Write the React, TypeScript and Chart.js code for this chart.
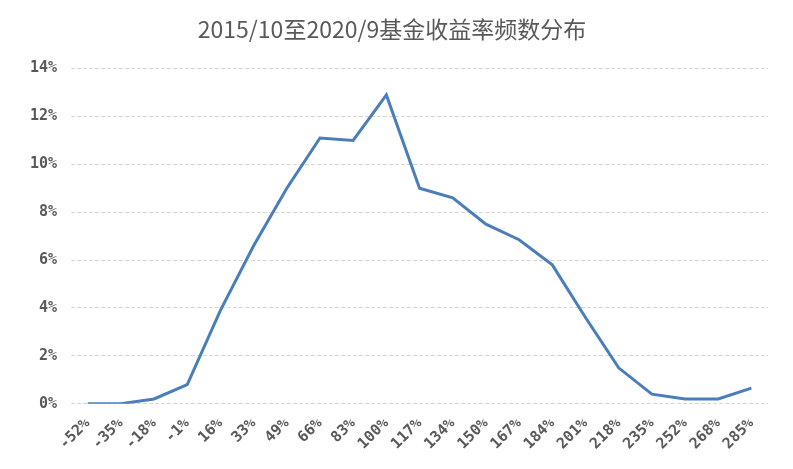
import React, { useEffect, useRef } from "react";
import { Chart, registerables } from "chart.js";

Chart.register(...registerables);

const categories = ["-52%", "-35%", "-18%", "-1%", "16%", "33%", "49%", "66%", "83%", "100%", "117%", "134%", "150%", "167%", "184%", "201%", "218%", "235%", "252%", "268%", "285%"];
const frequency = [0, 0, 0.2, 0.8, 3.9, 6.6, 9.0, 11.1, 11.0, 12.9, 9.0, 8.6, 7.5, 6.85, 5.8, 3.6, 1.5, 0.4, 0.2, 0.2, 0.65];
const titleText = "2015/10至2020/9基金收益率频数分布";

export default function App() {
  const ref = useRef<HTMLCanvasElement | null>(null);
  useEffect(() => {
    document.body.style.margin = "0";
    const ctx = ref.current!;
    const chart = new Chart(ctx, {
      type: "line",
      data: {
        labels: categories,
        datasets: [
          {
            data: frequency,
            borderColor: "#4A7EBB",
            borderWidth: 3,
            pointRadius: 0,
            tension: 0,
            fill: false,
          },
        ],
      },
      options: {
        animation: false,
        responsive: false,
        devicePixelRatio: 1,
        layout: { padding: { left: 16, right: 25, top: 6, bottom: 13 } },
        plugins: {
          legend: { display: false },
          tooltip: { enabled: false },
          title: {
            display: true,
            text: titleText,
            color: "#595959",
            font: { family: "'Noto Sans CJK SC', 'Noto Sans', sans-serif", size: 23, weight: "normal" },
            padding: { top: 9, bottom: 26 },
          },
        },
        scales: {
          x: {
            offset: true,
            grid: { display: false },
            border: { display: false },
            ticks: {
              minRotation: 45,
              maxRotation: 45,
              autoSkip: false,
              color: "#595959",
              font: { family: "'DejaVu Sans Mono', monospace", size: 15, weight: "bold" },
              padding: 3,
            },
          },
          y: {
            min: 0,
            max: 14,
            grid: { color: "#D9D9D9", lineWidth: 1, drawTicks: false },
            border: { display: false, dash: [4, 2] },
            ticks: {
              stepSize: 2,
              color: "#595959",
              padding: 14,
              font: { family: "'DejaVu Sans Mono', monospace", size: 15, weight: "bold" },
              callback: (v: any) => v + "%",
            },
          },
        },
      },
    });
    return () => chart.destroy();
  }, []);
  return (
    <div style={{ position: "absolute", left: 0, top: 0, width: 793, height: 469 }}>
      <canvas ref={ref} width={793} height={469} />
    </div>
  );
}
